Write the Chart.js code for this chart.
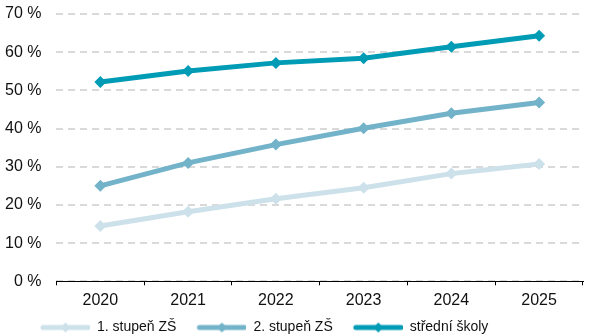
<!DOCTYPE html>
<html>
<head>
<meta charset="utf-8">
<script src="https://cdn.jsdelivr.net/npm/chart.js@4/dist/chart.umd.min.js"></script>
<style>
  html, body { margin: 0; padding: 0; background: #fff; }
  #wrap { width: 589px; height: 336px; }
</style>
</head>
<body>
<div id="wrap"><canvas id="chart"></canvas></div>
<script>
const years = ["2020", "2021", "2022", "2023", "2024", "2025"];
const stupen1 = [14.5, 18.2, 21.6, 24.5, 28.2, 30.7];
const stupen2 = [25.0, 31.0, 35.8, 40.1, 44.0, 46.8];
const stredni = [52.2, 55.1, 57.2, 58.4, 61.4, 64.3];
const yTicks = [0, 10, 20, 30, 40, 50, 60, 70];
const seriesNames = ["1. stupeň ZŠ", "2. stupeň ZŠ", "střední školy"];
const seriesColors = ["#cde1ea", "#72b3c9", "#009bb4"];

// legend marker: thick line with a diamond; the transparent left part makes the gap between items
const legendIcon = (color) => {
  const c = document.createElement("canvas");
  c.width = 66;
  c.height = 12;
  const g = c.getContext("2d");
  g.strokeStyle = color;
  g.lineWidth = 5;
  g.lineCap = "round";
  g.beginPath();
  g.moveTo(19, 6);
  g.lineTo(64, 6);
  g.stroke();
  g.fillStyle = color;
  g.beginPath();
  g.moveTo(41.5, 1);
  g.lineTo(46.5, 6);
  g.lineTo(41.5, 11);
  g.lineTo(36.5, 6);
  g.closePath();
  g.fill();
  return c;
};

// the legend row sits a bit right of the canvas edge in the original
const legendShift = {
  id: "legendShift",
  afterLayout(chart) {
    chart.legend.left += 15;
    chart.legend.right += 15;
  },
};

const makeSet = (i, data) => ({
  label: seriesNames[i],
  data,
  borderColor: seriesColors[i],
  backgroundColor: seriesColors[i],
  borderWidth: 5,
  pointStyle: "rectRot",
  pointRadius: 6,
  pointBorderWidth: 0,
  tension: 0,
});

const family = "'Liberation Sans', Arial, sans-serif";
const axisFont = { family, size: 16 };

new Chart(document.getElementById("chart"), {
  type: "line",
  data: {
    labels: years,
    datasets: [makeSet(0, stupen1), makeSet(1, stupen2), makeSet(2, stredni)],
  },
  plugins: [legendShift],
  options: {
    responsive: true,
    maintainAspectRatio: false,
    animation: false,
    layout: { padding: { top: 14, right: 0, left: 5, bottom: -8.5 } },
    scales: {
      x: {
        offset: true,
        border: { display: true, color: "#000", width: 1 },
        grid: {
          display: true,
          offset: true,
          drawOnChartArea: false,
          drawTicks: true,
          tickLength: 4,
          color: "#000",
        },
        ticks: { color: "#111", font: axisFont, padding: 6 },
      },
      y: {
        min: yTicks[0],
        max: yTicks[yTicks.length - 1],
        afterBuildTicks: (axis) => {
          axis.ticks = yTicks.map((v) => ({ value: v }));
        },
        border: { display: false, dash: [7, 5] },
        grid: {
          color: "#d9d9d9",
          lineWidth: 2,
          drawTicks: true,
          tickLength: 15,
          tickColor: "rgba(0,0,0,0)",
        },
        ticks: {
          color: "#111",
          font: axisFont,
          padding: 0,
          callback: (v) => `${v} %`,
        },
      },
    },
    plugins: {
      legend: {
        position: "bottom",
        align: "start",
        labels: {
          usePointStyle: true,
          pointStyleWidth: 66,
          boxHeight: 12,
          color: "#111",
          font: { family, size: 14 },
          padding: 4,
          generateLabels: (chart) =>
            chart.data.datasets.map((ds, i) => ({
              text: ds.label,
              pointStyle: legendIcon(ds.borderColor),
              fillStyle: ds.borderColor,
              strokeStyle: ds.borderColor,
              lineWidth: 0,
              fontColor: "#111",
              hidden: false,
              datasetIndex: i,
            })),
        },
      },
      tooltip: { enabled: false },
    },
  },
});
</script>
</body>
</html>
